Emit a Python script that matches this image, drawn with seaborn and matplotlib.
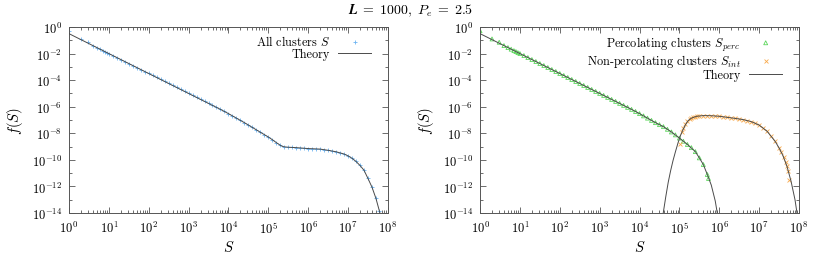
import numpy as np
import matplotlib
matplotlib.use('Agg')
import matplotlib.pyplot as plt
import matplotlib.ticker as mticker
import seaborn as sns

# Datos (log10 S, log10 f(S))
todos_logS = [0.0, 0.30, 0.48, 0.60, 0.70, 0.78, 0.85, 0.90, 0.95,
              1.0, 1.1, 1.2, 1.3, 1.4, 1.5, 1.6, 1.7, 1.8, 1.9,
              2.0, 2.1, 2.2, 2.3, 2.4, 2.5, 2.6, 2.7, 2.8, 2.9,
              3.0, 3.1, 3.2, 3.3, 3.4, 3.5, 3.6, 3.7, 3.8, 3.9,
              4.0, 4.1, 4.2, 4.3, 4.4, 4.5, 4.6, 4.7, 4.8, 4.9,
              5.0, 5.1, 5.2, 5.3, 5.4, 5.5, 5.6, 5.7, 5.8, 5.9,
              6.0, 6.1, 6.2, 6.3, 6.4, 6.5, 6.6, 6.7, 6.8, 6.9,
              7.0, 7.1, 7.2, 7.3, 7.4, 7.5, 7.6, 7.7, 7.78]
todos_logf = [-0.28, -0.90, -1.15, -1.40, -1.55, -1.67, -1.78, -1.85, -1.93,
              -2.00, -2.15, -2.30, -2.45, -2.60, -2.75, -2.90, -3.05, -3.20, -3.35,
              -3.50, -3.65, -3.80, -3.95, -4.10, -4.25, -4.40, -4.55, -4.70, -4.85,
              -5.00, -5.15, -5.30, -5.45, -5.60, -5.75, -5.90, -6.05, -6.20, -6.36,
              -6.52, -6.69, -6.86, -7.03, -7.20, -7.38, -7.56, -7.74, -7.92, -8.10,
              -8.28, -8.48, -8.70, -8.90, -9.02, -9.05, -9.06, -9.08, -9.10, -9.13,
              -9.15, -9.16, -9.17, -9.19, -9.23, -9.28, -9.33, -9.39, -9.46, -9.56,
              -9.70, -9.88, -10.12, -10.42, -10.78, -11.40, -12.05, -12.90, -13.85]

teoria_todos_logS = [0.0, 1.0, 2.0, 3.0, 3.5, 3.8, 4.0, 4.2, 4.4, 4.6, 4.8, 5.0,
                     5.1, 5.2, 5.3, 5.35, 5.4, 5.5, 5.7, 6.0, 6.3, 6.5, 6.7, 6.9,
                     7.0, 7.1, 7.2, 7.3, 7.4, 7.5, 7.6, 7.7, 7.8, 7.82]
teoria_todos_logf = [-0.50, -2.00, -3.50, -5.00, -5.75, -6.20, -6.52, -6.86, -7.20, -7.56, -7.92, -8.28,
                     -8.48, -8.70, -8.90, -8.98, -9.02, -9.05, -9.08, -9.15, -9.19, -9.28, -9.39, -9.56,
                     -9.70, -9.88, -10.12, -10.42, -10.78, -11.40, -12.05, -12.90, -14.00, -14.30]

perc_logS = [0.0, 0.30, 0.48, 0.60, 0.70, 0.78, 0.85, 0.90, 0.95,
             1.0, 1.1, 1.2, 1.3, 1.4, 1.5, 1.6, 1.7, 1.8, 1.9,
             2.0, 2.1, 2.2, 2.3, 2.4, 2.5, 2.6, 2.7, 2.8, 2.9,
             3.0, 3.1, 3.2, 3.3, 3.4, 3.5, 3.6, 3.7, 3.8, 3.9,
             4.0, 4.1, 4.2, 4.3, 4.4, 4.5, 4.6, 4.7, 4.8, 4.9,
             5.0, 5.1, 5.2, 5.3, 5.4, 5.5, 5.6, 5.7, 5.73]
perc_logf = [-0.28, -0.90, -1.15, -1.40, -1.55, -1.67, -1.78, -1.85, -1.93,
             -2.00, -2.15, -2.30, -2.45, -2.60, -2.75, -2.90, -3.05, -3.20, -3.35,
             -3.50, -3.65, -3.80, -3.95, -4.10, -4.25, -4.40, -4.55, -4.70, -4.85,
             -5.00, -5.15, -5.30, -5.45, -5.60, -5.75, -5.90, -6.05, -6.20, -6.36,
             -6.52, -6.69, -6.86, -7.03, -7.20, -7.35, -7.50, -7.70, -7.90, -8.12,
             -8.36, -8.60, -8.84, -9.08, -9.38, -9.85, -10.35, -11.10, -11.40]

teoria_perc_logS = [0.0, 1.0, 2.0, 3.0, 3.5, 3.8, 4.0, 4.2, 4.4, 4.6, 4.8, 5.0,
                    5.2, 5.4, 5.5, 5.6, 5.7, 5.8, 5.9, 5.95, 5.97]
teoria_perc_logf = [-0.50, -2.00, -3.50, -5.00, -5.75, -6.20, -6.52, -6.86, -7.20, -7.50, -7.90, -8.36,
                    -8.84, -9.38, -9.85, -10.35, -11.10, -11.90, -13.10, -14.00, -14.40]

int_logS = [5.01, 5.06, 5.10, 5.14, 5.20, 5.26, 5.30, 5.35, 5.40, 5.45, 5.50,
            5.60, 5.70, 5.80, 5.90, 6.00, 6.10, 6.20, 6.30, 6.40, 6.50,
            6.60, 6.70, 6.80, 6.90, 7.00, 7.10, 7.20, 7.30, 7.40, 7.50,
            7.56, 7.62, 7.67, 7.70, 7.73, 7.75]
int_logf = [-8.80, -7.92, -7.60, -7.30, -7.08, -6.92, -6.85, -6.79, -6.74, -6.71, -6.69,
            -6.67, -6.67, -6.68, -6.70, -6.72, -6.75, -6.80, -6.84, -6.88, -6.92,
            -6.97, -7.04, -7.12, -7.24, -7.38, -7.60, -7.85, -8.20, -8.60, -9.10,
            -9.43, -9.80, -10.18, -10.50, -10.81, -11.51]

teoria_int_logS = [4.58, 4.60, 4.66, 4.72, 4.78, 4.84, 4.90, 4.97, 5.03, 5.10, 5.16, 5.22,
                   5.30, 5.43, 5.60, 5.80, 6.00, 6.20, 6.40, 6.60, 6.80, 7.00, 7.20,
                   7.40, 7.50, 7.60, 7.70, 7.80, 7.90, 7.95, 7.97]
teoria_int_logf = [-14.30, -13.90, -12.75, -11.69, -10.82, -10.06, -9.40, -8.68, -8.15, -7.67, -7.32, -7.05,
                   -6.86, -6.72, -6.67, -6.68, -6.72, -6.80, -6.88, -6.97, -7.12, -7.38, -7.85,
                   -8.60, -9.10, -9.70, -10.50, -11.60, -13.00, -14.00, -14.40]

azul = '#6cb4f2'
verde = '#5cd65c'
naranja = '#f8a94a'
gris = '#4a4a4a'

plt.rcParams['font.family'] = 'cmr10'
plt.rcParams['mathtext.fontset'] = 'cm'
plt.rcParams['axes.formatter.use_mathtext'] = True
plt.rcParams['axes.unicode_minus'] = False
plt.rcParams['font.size'] = 9

fig = plt.figure(figsize=(8.22, 2.55), dpi=100)
ax_izq = fig.add_axes([0.0839, 0.1608, 0.388, 0.7294])
ax_der = fig.add_axes([0.584, 0.1608, 0.388, 0.7294])


def S(v):
    return np.power(10.0, v)


# Panel izquierdo: todos los clusters
sns.scatterplot(x=S(todos_logS), y=S(todos_logf), marker='+', color=azul, s=9,
                linewidth=0.6, ax=ax_izq, label='All clusters $S$', zorder=2)
sns.lineplot(x=S(teoria_todos_logS), y=S(teoria_todos_logf), color=gris, lw=0.7,
             sort=False, estimator=None, ax=ax_izq, label='Theory', zorder=3)

# Panel derecho: percolantes / no percolantes
sns.scatterplot(x=S(perc_logS), y=S(perc_logf), marker='^', s=8, fc='none',
                ec=verde, linewidth=0.6, ax=ax_der, label='Percolating clusters $S_{perc}$', zorder=2)
sns.scatterplot(x=S(int_logS), y=S(int_logf), marker='x', s=8, color=naranja,
                linewidth=0.6, ax=ax_der, label='Non-percolating clusters $S_{int}$', zorder=2)
sns.lineplot(x=S(teoria_perc_logS), y=S(teoria_perc_logf), color=gris, lw=0.7,
             sort=False, estimator=None, ax=ax_der, label='Theory', zorder=3)
sns.lineplot(x=S(teoria_int_logS), y=S(teoria_int_logf), color=gris, lw=0.7,
             sort=False, estimator=None, ax=ax_der, zorder=3)

for ax in (ax_izq, ax_der):
    ax.set_xscale('log')
    ax.set_yscale('log')
    ax.set_xlim(1, 1e8)
    ax.set_ylim(1e-14, 1)
    ax.xaxis.set_major_locator(mticker.LogLocator(base=10, numticks=20))
    ax.xaxis.set_minor_locator(mticker.LogLocator(base=10, subs=np.arange(2, 10), numticks=20))
    ax.xaxis.set_minor_formatter(mticker.NullFormatter())
    ax.yaxis.set_major_locator(mticker.FixedLocator([10.0 ** k for k in range(-14, 1, 2)]))
    ax.yaxis.set_minor_locator(mticker.FixedLocator([10.0 ** k for k in range(-13, 0, 2)]))
    ax.yaxis.set_major_formatter(mticker.LogFormatterSciNotation())
    ax.yaxis.set_minor_formatter(mticker.NullFormatter())
    ax.tick_params(which='both', direction='in', top=True, right=True, color='#555555', width=0.6)
    ax.tick_params(which='major', length=4, labelsize=9, pad=5)
    ax.tick_params(which='minor', length=2)
    for sp in ax.spines.values():
        sp.set_color('#555555')
        sp.set_linewidth(0.7)
    ax.set_xlabel('$S$', fontsize=10.5, labelpad=2)
    ax.set_ylabel('$f(S)$', fontsize=10.5, labelpad=5)
    ax.grid(False)
    ax.legend(loc='upper right', bbox_to_anchor=(0.955, 0.975), frameon=False, markerfirst=False,
              fontsize=8.8, handlelength=2.7, handletextpad=0.7, labelspacing=0.0,
              borderpad=0.2, borderaxespad=0.0)

fig.text(0.5, 0.958, r'$\boldsymbol{L}\;=\;\mathbf{1000},\ \boldsymbol{P_e}\;=\;\mathbf{2.5}$',
         ha='center', va='center', fontsize=10)

fig.savefig('out.png', dpi=100)
